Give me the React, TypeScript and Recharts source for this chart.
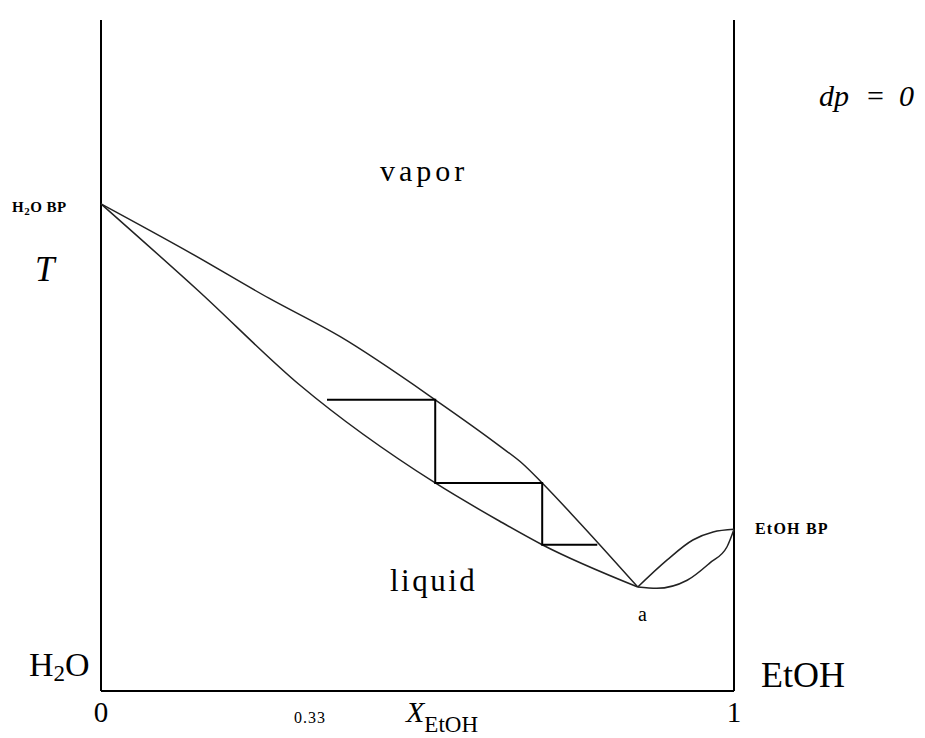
import { ComposedChart, Line, XAxis, YAxis, ReferenceLine } from "recharts";

// x = mole fraction EtOH, t = temperature (arbitrary units, 0 at the bottom axis)
const vaporCurve = [
  { x: 0, t: 72.6 },
  { x: 0.141, t: 65.3 },
  { x: 0.266, t: 58.5 },
  { x: 0.378, t: 52.8 },
  { x: 0.528, t: 43.4 },
  { x: 0.63, t: 36.5 },
  { x: 0.667, t: 33.8 },
  { x: 0.697, t: 31.0 },
  { x: 0.752, t: 25.5 },
  { x: 0.848, t: 15.5 },
];

const liquidCurve = [
  { x: 0, t: 72.6 },
  { x: 0.152, t: 59.8 },
  { x: 0.314, t: 45.6 },
  { x: 0.528, t: 31.0 },
  { x: 0.63, t: 25.3 },
  { x: 0.697, t: 21.8 },
  { x: 0.848, t: 15.5 },
];

const lensUpper = [
  { x: 0.848, t: 15.5 },
  { x: 0.894, t: 19.5 },
  { x: 0.935, t: 22.5 },
  { x: 0.967, t: 23.7 },
  { x: 1, t: 24.1 },
];

const lensLower = [
  { x: 0.848, t: 15.5 },
  { x: 0.878, t: 15.3 },
  { x: 0.926, t: 16.5 },
  { x: 0.962, t: 19.1 },
  { x: 0.989, t: 21.5 },
  { x: 1, t: 24.1 },
];

// distillation steps
const steps = [
  { x: 0.357, t: 43.4 },
  { x: 0.528, t: 43.4 },
  { x: 0.528, t: 31.0 },
  { x: 0.697, t: 31.0 },
  { x: 0.697, t: 21.8 },
  { x: 0.784, t: 21.8 },
];

const xTicks = [0, 0.33, 1];
const xTickLabels: Record<number, string> = { 0: "0", 0.33: "0.33", 1: "1" };

const serif = "'Liberation Serif', 'DejaVu Serif', serif";
const ff = { fontFamily: serif };

function XTick({ x, payload }: any) {
  const v = payload.value;
  const small = v === 0.33;
  return (
    <text
      x={x}
      y={small ? 723 : 722}
      textAnchor="middle"
      style={ff}
      fontSize={small ? 16 : 29}
      letterSpacing={small ? 1 : 0}
      fill="#000"
    >
      {xTickLabels[v]}
    </text>
  );
}

const curve = { stroke: "#222", strokeWidth: 1.5, dot: false, isAnimationActive: false } as const;

export default function App() {
  return (
    <div style={{ position: "absolute", left: 0, top: 0, width: 925, height: 738, background: "#fff" }}>
      <ComposedChart width={925} height={738} margin={{ top: 20, right: 191, bottom: 0, left: 101 }}>
        <XAxis
          type="number"
          dataKey="x"
          domain={[0, 1]}
          ticks={xTicks}
          tick={<XTick />}
          tickLine={false}
          height={47}
          axisLine={{ stroke: "#000", strokeWidth: 2 }}
        />
        <YAxis type="number" domain={[0, 100]} width={0} tick={false} tickLine={false} axisLine={false} />
        <ReferenceLine x={0} stroke="#000" strokeWidth={2} />
        <ReferenceLine x={1} stroke="#000" strokeWidth={2} />
        <Line data={vaporCurve} dataKey="t" type="monotone" {...curve} />
        <Line data={liquidCurve} dataKey="t" type="monotone" {...curve} />
        <Line data={lensUpper} dataKey="t" type="monotone" {...curve} />
        <Line data={lensLower} dataKey="t" type="monotone" {...curve} />
        <Line data={steps} dataKey="t" type="linear" stroke="#000" strokeWidth={2} dot={false} isAnimationActive={false} />
      </ComposedChart>
      <svg width={925} height={738} style={{ position: "absolute", left: 0, top: 0, pointerEvents: "none" }}>
        <text x={380} y={181} style={ff} fontSize={30} letterSpacing={4}>vapor</text>
        <text x={390} y={591} style={ff} fontSize={31} letterSpacing={2.5}>liquid</text>
        <text x={12} y={212} style={ff} fontSize={15} fontWeight="bold" letterSpacing={0.5}>
          H<tspan fontSize={11} dy={3}>2</tspan><tspan dy={-3}>O BP</tspan>
        </text>
        <text x={755} y={534} style={ff} fontSize={16} fontWeight="bold" letterSpacing={1.2}>EtOH BP</text>
        <text x={35} y={281} style={ff} fontSize={35} fontStyle="italic">T</text>
        <text x={29} y={676} style={ff} fontSize={34}>
          H<tspan fontSize={23} dy={5}>2</tspan><tspan dy={-5}>O</tspan>
        </text>
        <text x={761} y={687} style={ff} fontSize={36}>EtOH</text>
        <text x={819} y={106} style={ff} fontSize={30} fontStyle="italic">dp</text>
        <text x={867} y={106} style={ff} fontSize={30}>=</text>
        <text x={899} y={106} style={ff} fontSize={30} fontStyle="italic">0</text>
        <text x={638} y={621} style={ff} fontSize={20}>a</text>
        <text x={406} y={722} style={ff} fontSize={30} fontStyle="italic">
          X<tspan fontStyle="normal" fontSize={23} dy={10}>EtOH</tspan>
        </text>
      </svg>
    </div>
  );
}
